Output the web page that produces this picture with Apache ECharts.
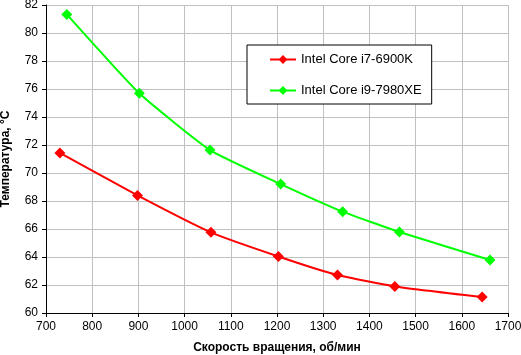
<!DOCTYPE html>
<html><head><meta charset="utf-8">
<script src="https://cdn.jsdelivr.net/npm/echarts@6/dist/echarts.min.js"></script>
<style>html,body{margin:0;padding:0;background:#fff}#c{width:521px;height:355px}</style>
</head><body><div id="c"></div>
<script>
const seriesNames = ['Intel Core i7-6900K', 'Intel Core i9-7980XE'];
const i7X = [730, 898, 1057, 1203, 1331, 1455, 1644];
const i7Y = [71.43, 68.4, 65.76, 64.04, 62.71, 61.9, 61.14];
const i9X = [745, 902, 1055, 1208, 1342, 1465, 1661];
const i9Y = [81.33, 75.69, 71.64, 69.21, 67.24, 65.79, 63.79];
const xName = 'Скорость вращения, об/мин';
const yName = 'Температура, °C';

const chart = echarts.init(document.getElementById('c'), null, {renderer: 'canvas'});
const font = 'Liberation Sans, Arial, sans-serif';
function pairs(xs, ys){ return xs.map((x,i)=>[x, ys[i]]); }
chart.setOption({
  animation: false,
  backgroundColor: '#fff',
  grid: {left: 46, right: 13, top: 5, bottom: 42, containLabel: false, outerBoundsMode: 'none'},
  legend: {
    orient: 'vertical', left: 247, top: 45,
    backgroundColor: '#fff', borderColor: '#000', borderWidth: 1, borderRadius: 0,
    padding: [8, 10, 7, 22], itemGap: 18, itemWidth: 26, itemHeight: 11,
    textStyle: {fontFamily: font, fontSize: 13, color: '#000'},
    data: seriesNames
  },
  xAxis: {
    type: 'value', min: 700, max: 1700, interval: 100,
    name: xName, nameLocation: 'middle', nameGap: 29,
    nameTextStyle: {fontFamily: font, fontSize: 12, fontWeight: 'bold', color: '#000'},
    axisLine: {show: true, lineStyle: {color: '#000', width: 1}},
    axisTick: {show: true, length: 4, lineStyle: {color: '#000'}},
    axisLabel: {fontFamily: font, fontSize: 12, color: '#000', margin: 8, formatter: v => String(v)},
    splitLine: {show: true, lineStyle: {color: '#c0c0c0', width: 1}}
  },
  yAxis: {
    type: 'value', min: 60, max: 82, interval: 2,
    name: yName, nameLocation: 'middle', nameGap: 34,
    nameTextStyle: {fontFamily: font, fontSize: 12, fontWeight: 'bold', color: '#000'},
    axisLine: {show: true, lineStyle: {color: '#000', width: 1}},
    axisTick: {show: true, length: 4, lineStyle: {color: '#000'}},
    axisLabel: {fontFamily: font, fontSize: 12, color: '#000', margin: 8, formatter: v => String(v)},
    splitLine: {show: true, lineStyle: {color: '#c0c0c0', width: 1}}
  },
  series: [
    {name: seriesNames[0], type: 'line', data: pairs(i7X, i7Y), smooth: 0.15,
     symbol: 'diamond', symbolSize: 11, color: '#ff0000',
     lineStyle: {color: '#ff0000', width: 2}, itemStyle: {color: '#ff0000'}},
    {name: seriesNames[1], type: 'line', data: pairs(i9X, i9Y), smooth: 0.15,
     symbol: 'diamond', symbolSize: 11, color: '#00ff00',
     lineStyle: {color: '#00ff00', width: 2}, itemStyle: {color: '#00ff00'}}
  ]
});
</script></body></html>
